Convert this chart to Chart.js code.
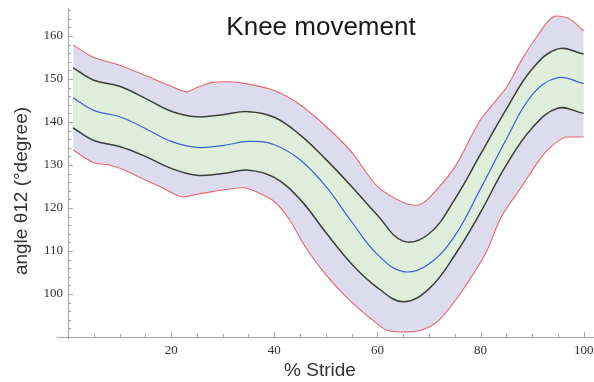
<!DOCTYPE html>
<html>
<head>
<meta charset="utf-8">
<script src="https://cdn.jsdelivr.net/npm/chart.js@4/dist/chart.umd.min.js"></script>
<style>
  html, body { margin: 0; padding: 0; background: #ffffff; }
  #wrap { width: 594px; height: 382px; position: relative; }
</style>
</head>
<body>
<div id="wrap"><canvas id="knee" width="594" height="382"></canvas></div>
<script>
// % of stride at which the mean and ±SD curves are sampled
const strideGrid = [1, 5, 10, 15, 20, 25, 30, 35, 40, 45, 50, 55, 60, 65, 70, 75, 80, 85, 90, 95, 100];
// mean knee angle θ12 (degrees)
const meanAngle = [145.6, 142.7, 141.2, 138.5, 135.5, 134.1, 134.5, 135.5, 134.7, 131.2, 125.0, 116.8, 109.2, 105.2, 107.0, 113.5, 124.5, 136.0, 146.3, 150.3, 148.9];
// mean + 1 SD
const upperSD = [152.6, 149.7, 148.3, 145.5, 142.5, 141.2, 141.7, 142.4, 141.1, 137.0, 131.3, 125.0, 118.3, 112.3, 114.0, 122.0, 132.5, 143.0, 152.3, 157.0, 155.8];
// mean - 1 SD
const lowerSD = [138.6, 135.7, 134.3, 132.0, 129.2, 127.6, 128.0, 128.8, 127.1, 122.0, 114.3, 107.0, 101.5, 98.2, 101.2, 109.0, 119.0, 130.0, 138.6, 143.2, 142.0];

// upper envelope (maximum over trials)
const upperEnvX = [1, 5, 10, 15, 20, 23, 25, 28, 32, 35, 40, 45, 50, 55, 60, 65, 68, 70, 75, 80, 85, 88, 91, 94, 97, 100];
const upperEnv  = [157.9, 155.0, 153.2, 150.8, 148.3, 147.0, 148.0, 149.2, 149.3, 148.8, 147.3, 144.0, 139.0, 133.0, 125.0, 121.3, 120.7, 122.3, 129.5, 140.5, 148.0, 154.5, 160.0, 164.4, 164.1, 161.2];
// lower envelope (minimum over trials)
const lowerEnvX = [1, 5, 8, 11, 15, 18, 22, 25, 28, 34, 37, 40, 43, 46, 50, 53, 56, 59, 62, 66, 69, 72, 76, 81, 84, 88, 91, 93, 96, 97, 100];
const lowerEnv  = [133.5, 130.5, 130.0, 128.8, 126.5, 124.9, 122.6, 123.2, 123.8, 124.7, 123.5, 121.5, 117.2, 111.0, 104.5, 100.5, 97.0, 94.0, 91.5, 91.2, 91.8, 94.0, 100.0, 109.5, 117.9, 125.0, 130.5, 133.5, 136.3, 136.5, 136.5];

// axis tick labels
const xTickLabels = [20, 40, 60, 80, 100];
const yTickLabels = [100, 110, 120, 130, 140, 150, 160];

const chartTitle = 'Knee movement';
const xTitle = '% Stride';
const yTitle = 'angle θ12 (°degree)';

const AXIS_GREY = '#a3a3a3';
const pts = (xs, ys) => xs.map((x, i) => ({ x: x, y: ys[i] }));

// fixed axis box sizes, no extra label padding around the plot
const fixBox = size => s => {
  if (s.isHorizontal()) s.height = size; else s.width = size;
  s.paddingTop = 0; s.paddingBottom = 0; s.paddingLeft = 0; s.paddingRight = 0;
};

// inward minor/major ticks and the text placed over the plot
const decor = {
  id: 'decor',
  afterDraw(chart) {
    const { ctx, chartArea: a, scales: { x, y } } = chart;
    ctx.save();
    ctx.strokeStyle = AXIS_GREY;
    ctx.lineWidth = 1;
    ctx.beginPath();
    // small extension of the horizontal axis to the left of the vertical one
    ctx.moveTo(a.left - 11, a.bottom + 0.5);
    ctx.lineTo(a.left, a.bottom + 0.5);
    ctx.moveTo(a.left + 0.5, a.bottom);
    ctx.lineTo(a.left + 0.5, a.bottom + 2);
    for (let v = 5; v <= x.max; v += 5) {
      const px = Math.round(x.getPixelForValue(v)) + 0.5;
      const len = v % 20 === 0 ? 5 : 3;
      ctx.moveTo(px, a.bottom);
      ctx.lineTo(px, a.bottom - len);
    }
    for (let v = 92; v <= y.max; v += 2) {
      const py = Math.round(y.getPixelForValue(v)) + 0.5;
      const len = v % 10 === 0 ? 5 : 3;
      ctx.moveTo(a.left, py);
      ctx.lineTo(a.left + len, py);
    }
    ctx.stroke();

    ctx.fillStyle = '#1a1a1a';
    ctx.textAlign = 'center';
    ctx.textBaseline = 'alphabetic';
    ctx.font = '26px "Liberation Sans", Arial, sans-serif';
    ctx.fillText(chartTitle, 321, 35);

    ctx.fillStyle = '#333333';
    ctx.font = '19px "Liberation Sans", Arial, sans-serif';
    ctx.fillText(xTitle, 320, 376);

    ctx.translate(27, 191);
    ctx.rotate(-Math.PI / 2);
    ctx.fillText(yTitle, 0, 0);
    ctx.restore();
  }
};

new Chart(document.getElementById('knee'), {
  type: 'line',
  data: {
    datasets: [
      { label: 'mean', data: pts(strideGrid, meanAngle), borderColor: '#3b5fd6', borderWidth: 1.2, fill: false },
      { label: '+SD', data: pts(strideGrid, upperSD), borderColor: '#3a3f3a', borderWidth: 1.5, fill: '+1', backgroundColor: '#dfeedb' },
      { label: '-SD', data: pts(strideGrid, lowerSD), borderColor: '#3a3f3a', borderWidth: 1.5, fill: false },
      { label: 'max', data: pts(upperEnvX, upperEnv), borderColor: '#e4686c', borderWidth: 1.1, fill: '+1', backgroundColor: '#dcdcee', tension: 0.3 },
      { label: 'min', data: pts(lowerEnvX, lowerEnv), borderColor: '#e4686c', borderWidth: 1.1, fill: false, tension: 0.3 }
    ]
  },
  options: {
    responsive: false,
    animation: false,
    devicePixelRatio: 1,
    layout: { padding: { top: 8, right: 0, left: 0, bottom: 0 } },
    elements: {
      point: { radius: 0 },
      line: { tension: 0.4 }
    },
    plugins: {
      legend: { display: false },
      title: { display: false },
      tooltip: { enabled: false },
      filler: { drawTime: 'beforeDatasetsDraw' }
    },
    scales: {
      x: {
        type: 'linear',
        min: 0,
        max: 102,
        grid: { display: false, drawTicks: false },
        border: { display: true, color: AXIS_GREY, width: 1 },
        afterBuildTicks: s => { s.ticks = xTickLabels.map(v => ({ value: v })); },
        afterFit: fixBox(45),
        ticks: {
          padding: 6,
          maxRotation: 0,
          color: '#333333',
          font: { family: '"Liberation Serif", "Times New Roman", serif', size: 13 }
        }
      },
      y: {
        type: 'linear',
        min: 90,
        max: 166.5,
        grid: { display: false, drawTicks: false },
        border: { display: true, color: AXIS_GREY, width: 1 },
        afterBuildTicks: s => { s.ticks = yTickLabels.map(v => ({ value: v })); },
        afterFit: fixBox(68),
        ticks: {
          padding: 5,
          color: '#333333',
          font: { family: '"Liberation Serif", "Times New Roman", serif', size: 13 }
        }
      }
    }
  },
  plugins: [decor]
});
</script>
</body>
</html>
